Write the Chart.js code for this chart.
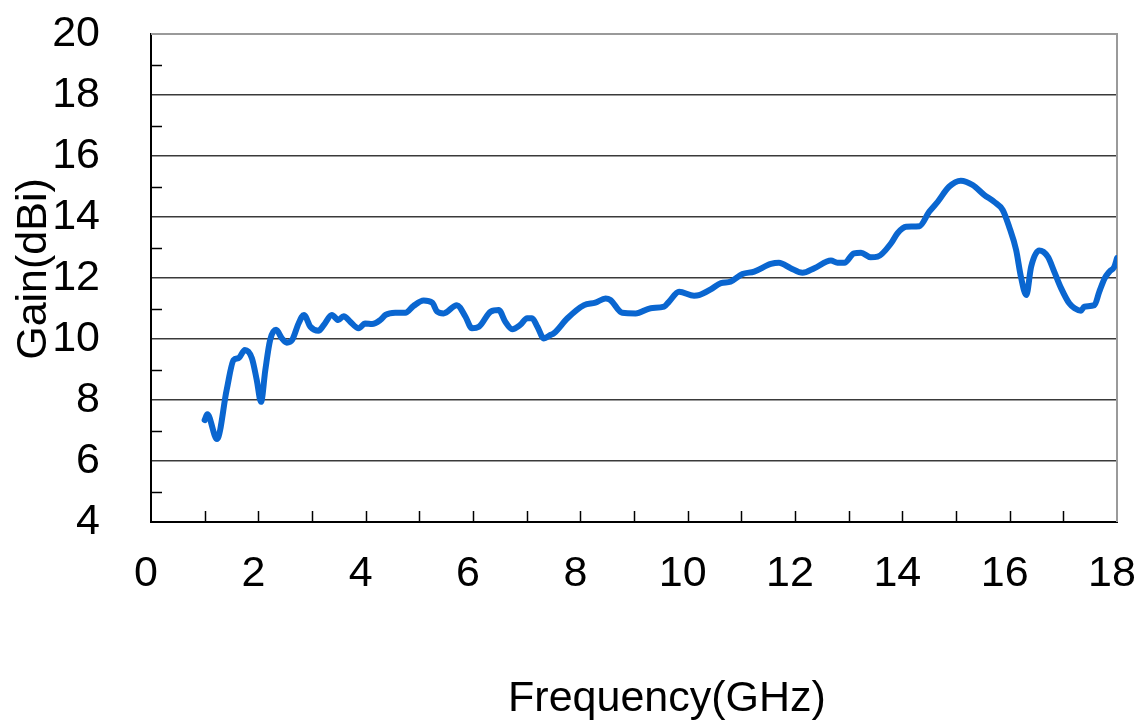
<!DOCTYPE html>
<html>
<head>
<meta charset="utf-8">
<script src="https://cdn.jsdelivr.net/npm/chart.js@4.4.1/dist/chart.umd.min.js"></script>
<style>
  html, body { margin: 0; padding: 0; background: #ffffff; }
  #wrap { width: 1142px; height: 724px; position: relative; }
</style>
</head>
<body>
<div id="wrap"><canvas id="c" width="1142" height="724"></canvas></div>
<script>
// Frequency (GHz)
const frequencyGHz = [1.0, 1.05, 1.23, 1.41, 1.54, 1.63, 1.75, 1.88, 1.97, 2.05, 2.13, 2.22, 2.33, 2.44, 2.53, 2.63, 2.75, 2.85, 2.97, 3.12, 3.22, 3.37, 3.49, 3.59, 3.71, 3.87, 3.99, 4.12, 4.27, 4.37, 4.55, 4.74, 4.89, 5.08, 5.24, 5.33, 5.45, 5.70, 5.86, 5.98, 6.11, 6.33, 6.48, 6.60, 6.73, 6.88, 7.01, 7.10, 7.20, 7.32, 7.44, 7.51, 7.76, 8.07, 8.28, 8.47, 8.56, 8.78, 9.03, 9.31, 9.56, 9.65, 9.84, 10.12, 10.21, 10.43, 10.62, 10.80, 11.02, 11.24, 11.55, 11.70, 11.92, 12.14, 12.36, 12.67, 12.79, 12.92, 13.10, 13.23, 13.41, 13.54, 13.79, 13.91, 14.07, 14.32, 14.50, 14.66, 14.87, 15.09, 15.31, 15.53, 15.71, 15.87, 15.99, 16.12, 16.21, 16.31, 16.40, 16.55, 16.71, 16.83, 16.96, 17.11, 17.21, 17.33, 17.39, 17.58, 17.67, 17.77, 17.86, 17.95, 18.0];
// Gain (dBi)
const gainDBi = [7.34, 7.53, 6.72, 8.33, 9.31, 9.37, 9.64, 9.37, 8.66, 7.94, 8.98, 9.97, 10.30, 10.02, 9.88, 9.97, 10.51, 10.79, 10.40, 10.27, 10.46, 10.79, 10.62, 10.75, 10.57, 10.35, 10.51, 10.49, 10.62, 10.79, 10.86, 10.86, 11.08, 11.26, 11.19, 10.90, 10.84, 11.11, 10.73, 10.35, 10.40, 10.90, 10.95, 10.57, 10.32, 10.46, 10.68, 10.68, 10.40, 10.02, 10.13, 10.19, 10.68, 11.11, 11.19, 11.33, 11.28, 10.86, 10.84, 11.01, 11.06, 11.22, 11.55, 11.42, 11.44, 11.63, 11.83, 11.88, 12.13, 12.21, 12.46, 12.50, 12.32, 12.17, 12.32, 12.57, 12.50, 12.50, 12.81, 12.83, 12.68, 12.70, 13.14, 13.47, 13.68, 13.70, 14.17, 14.50, 14.99, 15.19, 15.05, 14.72, 14.50, 14.23, 13.68, 12.92, 12.04, 11.44, 12.37, 12.90, 12.70, 12.21, 11.66, 11.17, 11.01, 10.93, 11.06, 11.11, 11.55, 11.99, 12.21, 12.37, 12.65];

const xTickValues = [0, 2, 4, 6, 8, 10, 12, 14, 16, 18];
const yTickValues = [4, 6, 8, 10, 12, 14, 16, 18, 20];
const xTitle = 'Frequency(GHz)';
const yTitle = 'Gain(dBi)';

const FONT = '"Liberation Sans", Arial, sans-serif';
const FS = 43;

const decorations = {
  id: 'decorations',
  beforeDatasetsDraw(chart) {
    const ctx = chart.ctx;
    const xs = chart.scales.x, ys = chart.scales.y;
    const a = chart.chartArea;
    ctx.save();
    // top & right frame (gray)
    ctx.strokeStyle = '#9a9a9a';
    ctx.lineWidth = 2;
    ctx.beginPath();
    ctx.moveTo(a.left, a.top);
    ctx.lineTo(a.right, a.top);
    ctx.lineTo(a.right, a.bottom);
    ctx.stroke();
    // minor y ticks (inside)
    ctx.strokeStyle = '#000';
    ctx.lineWidth = 1.5;
    for (let v = 5; v < 20; v += 2) {
      const y = Math.round(ys.getPixelForValue(v)) + 0.5;
      ctx.beginPath();
      ctx.moveTo(a.left, y);
      ctx.lineTo(a.left + 11, y);
      ctx.stroke();
    }
    // x ticks (inside, every 1 GHz)
    for (let v = 1; v < 18; v += 1) {
      const x = Math.round(xs.getPixelForValue(v)) + 0.5;
      ctx.beginPath();
      ctx.moveTo(x, a.bottom);
      ctx.lineTo(x, a.bottom - 11);
      ctx.stroke();
    }
    ctx.restore();
  },
  afterDraw(chart) {
    const ctx = chart.ctx;
    ctx.save();
    ctx.fillStyle = '#000';
    ctx.font = FS + 'px ' + FONT;
    ctx.textAlign = 'center';
    ctx.textBaseline = 'middle';
    ctx.fillText(xTitle, 667, 699);
    ctx.translate(34, 269);
    ctx.rotate(-Math.PI / 2);
    ctx.fillText(yTitle, 0, 0);
    ctx.restore();
  }
};

new Chart(document.getElementById('c'), {
  type: 'line',
  data: {
    datasets: [{
      data: frequencyGHz.map((f, i) => ({ x: f, y: gainDBi[i] })),
      borderColor: '#0a66d0',
      borderWidth: 6,
      pointRadius: 0,
      cubicInterpolationMode: 'monotone',
      borderCapStyle: 'round',
      borderJoinStyle: 'round',
      fill: false
    }]
  },
  options: {
    responsive: false,
    animation: false,
    devicePixelRatio: 1,
    layout: { padding: { left: 0, right: 25, top: 34, bottom: 0 } },
    plugins: { legend: { display: false }, tooltip: { enabled: false } },
    scales: {
      x: {
        type: 'linear',
        min: 0, max: 18,
        afterBuildTicks: (s) => { s.ticks = xTickValues.map(v => ({ value: v })); },
        afterFit: (s) => { s.height = 724 - 522; },
        grid: { display: true, drawOnChartArea: false, drawTicks: true, tickLength: 26, tickColor: 'rgba(0,0,0,0)', color: 'rgba(0,0,0,0)' },
        border: { display: true, color: '#000', width: 2 },
        ticks: { color: '#000', font: { size: FS, family: FONT }, padding: 0, labelOffset: -5, maxRotation: 0, autoSkip: false }
      },
      y: {
        type: 'linear',
        min: 4, max: 20,
        afterBuildTicks: (s) => { s.ticks = yTickValues.map(v => ({ value: v })); },
        afterFit: (s) => { s.width = 151; },
        grid: {
          drawTicks: true,
          tickLength: 43,
          tickColor: 'rgba(0,0,0,0)',
          color: (c) => (c.tick && (c.tick.value === 20 || c.tick.value === 4)) ? 'rgba(0,0,0,0)' : '#3a3a3a',
          lineWidth: 1.5
        },
        border: { display: true, color: '#000', width: 2 },
        ticks: { color: '#000', font: { size: FS, family: FONT }, padding: 8, autoSkip: false }
      }
    }
  },
  plugins: [decorations]
});
</script>
</body>
</html>
